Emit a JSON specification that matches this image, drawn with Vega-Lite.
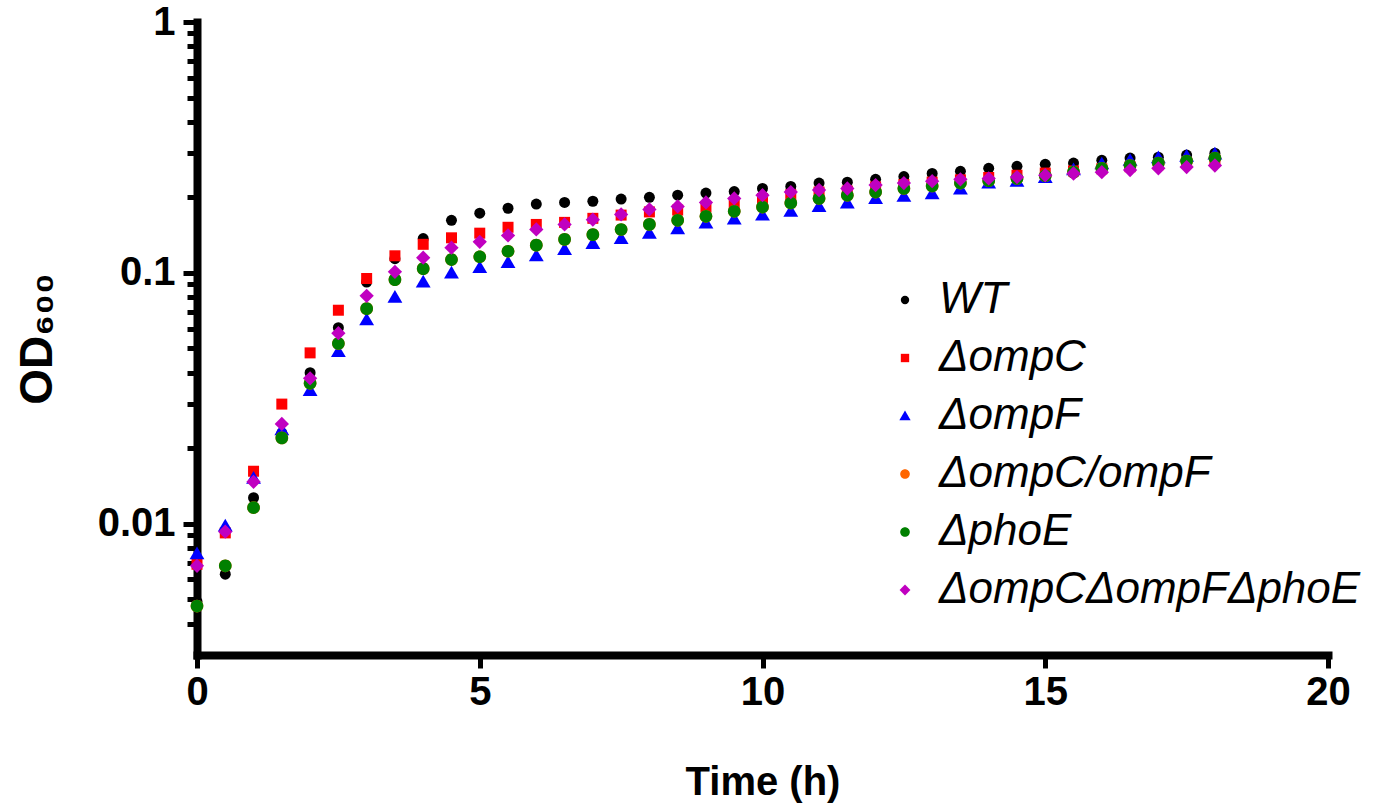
{
  "$schema": "https://vega.github.io/schema/vega-lite/v6.json",
  "width": 1131,
  "height": 633,
  "autosize": "none",
  "padding": {"left": 197, "top": 22, "right": 55, "bottom": 156},
  "background": "white",
  "config": {"view": {"stroke": null}},
  "data": {
    "values": [
      {"t": 0, "WT": 0.0049, "ΔompC": 0.0069, "ΔompF": 0.0076, "ΔompC/ompF": 0.0047, "ΔphoE": 0.0047, "ΔompCΔompFΔphoE": 0.0068},
      {"t": 0.5, "WT": 0.0063, "ΔompC": 0.0092, "ΔompF": 0.0098, "ΔompC/ompF": 0.0068, "ΔphoE": 0.0068, "ΔompCΔompFΔphoE": 0.0093},
      {"t": 1, "WT": 0.0127, "ΔompC": 0.0162, "ΔompF": 0.0152, "ΔompC/ompF": 0.0116, "ΔphoE": 0.0116, "ΔompCΔompFΔphoE": 0.0147},
      {"t": 1.5, "WT": 0.023, "ΔompC": 0.03, "ΔompF": 0.0237, "ΔompC/ompF": 0.022, "ΔphoE": 0.022, "ΔompCΔompFΔphoE": 0.025},
      {"t": 2, "WT": 0.04, "ΔompC": 0.048, "ΔompF": 0.034, "ΔompC/ompF": 0.0363, "ΔphoE": 0.0363, "ΔompCΔompFΔphoE": 0.038},
      {"t": 2.5, "WT": 0.0605, "ΔompC": 0.071, "ΔompF": 0.0486, "ΔompC/ompF": 0.0523, "ΔphoE": 0.0523, "ΔompCΔompFΔphoE": 0.0575},
      {"t": 3, "WT": 0.092, "ΔompC": 0.095, "ΔompF": 0.065, "ΔompC/ompF": 0.072, "ΔphoE": 0.072, "ΔompCΔompFΔphoE": 0.081},
      {"t": 3.5, "WT": 0.114, "ΔompC": 0.117, "ΔompF": 0.08, "ΔompC/ompF": 0.094, "ΔphoE": 0.094, "ΔompCΔompFΔphoE": 0.101},
      {"t": 4, "WT": 0.137, "ΔompC": 0.13, "ΔompF": 0.092, "ΔompC/ompF": 0.104, "ΔphoE": 0.104, "ΔompCΔompFΔphoE": 0.115},
      {"t": 4.5, "WT": 0.162, "ΔompC": 0.138, "ΔompF": 0.1, "ΔompC/ompF": 0.113, "ΔphoE": 0.113, "ΔompCΔompFΔphoE": 0.126},
      {"t": 5, "WT": 0.173, "ΔompC": 0.144, "ΔompF": 0.105, "ΔompC/ompF": 0.116, "ΔphoE": 0.116, "ΔompCΔompFΔphoE": 0.133},
      {"t": 5.5, "WT": 0.181, "ΔompC": 0.152, "ΔompF": 0.11, "ΔompC/ompF": 0.122, "ΔphoE": 0.122, "ΔompCΔompFΔphoE": 0.141},
      {"t": 6, "WT": 0.188, "ΔompC": 0.156, "ΔompF": 0.117, "ΔompC/ompF": 0.129, "ΔphoE": 0.129, "ΔompCΔompFΔphoE": 0.149},
      {"t": 6.5, "WT": 0.191, "ΔompC": 0.159, "ΔompF": 0.124, "ΔompC/ompF": 0.136, "ΔphoE": 0.136, "ΔompCΔompFΔphoE": 0.156},
      {"t": 7, "WT": 0.193, "ΔompC": 0.165, "ΔompF": 0.131, "ΔompC/ompF": 0.142, "ΔphoE": 0.142, "ΔompCΔompFΔphoE": 0.163},
      {"t": 7.5, "WT": 0.197, "ΔompC": 0.17, "ΔompF": 0.137, "ΔompC/ompF": 0.149, "ΔphoE": 0.149, "ΔompCΔompFΔphoE": 0.171},
      {"t": 8, "WT": 0.2, "ΔompC": 0.175, "ΔompF": 0.144, "ΔompC/ompF": 0.156, "ΔphoE": 0.156, "ΔompCΔompFΔphoE": 0.179},
      {"t": 8.5, "WT": 0.204, "ΔompC": 0.178, "ΔompF": 0.15, "ΔompC/ompF": 0.162, "ΔphoE": 0.162, "ΔompCΔompFΔphoE": 0.184},
      {"t": 9, "WT": 0.208, "ΔompC": 0.183, "ΔompF": 0.158, "ΔompC/ompF": 0.168, "ΔphoE": 0.168, "ΔompCΔompFΔphoE": 0.191},
      {"t": 9.5, "WT": 0.211, "ΔompC": 0.19, "ΔompF": 0.164, "ΔompC/ompF": 0.176, "ΔphoE": 0.176, "ΔompCΔompFΔphoE": 0.198},
      {"t": 10, "WT": 0.217, "ΔompC": 0.198, "ΔompF": 0.17, "ΔompC/ompF": 0.183, "ΔphoE": 0.183, "ΔompCΔompFΔphoE": 0.204},
      {"t": 10.5, "WT": 0.221, "ΔompC": 0.205, "ΔompF": 0.176, "ΔompC/ompF": 0.19, "ΔphoE": 0.19, "ΔompCΔompFΔphoE": 0.21},
      {"t": 11, "WT": 0.228, "ΔompC": 0.21, "ΔompF": 0.184, "ΔompC/ompF": 0.198, "ΔphoE": 0.198, "ΔompCΔompFΔphoE": 0.214},
      {"t": 11.5, "WT": 0.23, "ΔompC": 0.212, "ΔompF": 0.19, "ΔompC/ompF": 0.204, "ΔphoE": 0.204, "ΔompCΔompFΔphoE": 0.217},
      {"t": 12, "WT": 0.236, "ΔompC": 0.22, "ΔompF": 0.198, "ΔompC/ompF": 0.21, "ΔphoE": 0.21, "ΔompCΔompFΔphoE": 0.224},
      {"t": 12.5, "WT": 0.242, "ΔompC": 0.225, "ΔompF": 0.202, "ΔompC/ompF": 0.217, "ΔphoE": 0.217, "ΔompCΔompFΔphoE": 0.228},
      {"t": 13, "WT": 0.249, "ΔompC": 0.23, "ΔompF": 0.207, "ΔompC/ompF": 0.222, "ΔphoE": 0.222, "ΔompCΔompFΔphoE": 0.232},
      {"t": 13.5, "WT": 0.254, "ΔompC": 0.235, "ΔompF": 0.216, "ΔompC/ompF": 0.228, "ΔphoE": 0.228, "ΔompCΔompFΔphoE": 0.236},
      {"t": 14, "WT": 0.261, "ΔompC": 0.24, "ΔompF": 0.228, "ΔompC/ompF": 0.233, "ΔphoE": 0.233, "ΔompCΔompFΔphoE": 0.238},
      {"t": 14.5, "WT": 0.266, "ΔompC": 0.245, "ΔompF": 0.232, "ΔompC/ompF": 0.238, "ΔphoE": 0.238, "ΔompCΔompFΔphoE": 0.241},
      {"t": 15, "WT": 0.271, "ΔompC": 0.25, "ΔompF": 0.24, "ΔompC/ompF": 0.244, "ΔphoE": 0.244, "ΔompCΔompFΔphoE": 0.245},
      {"t": 15.5, "WT": 0.274, "ΔompC": 0.255, "ΔompF": 0.258, "ΔompC/ompF": 0.252, "ΔphoE": 0.252, "ΔompCΔompFΔphoE": 0.249},
      {"t": 16, "WT": 0.281, "ΔompC": 0.26, "ΔompF": 0.272, "ΔompC/ompF": 0.261, "ΔphoE": 0.261, "ΔompCΔompFΔphoE": 0.252},
      {"t": 16.5, "WT": 0.287, "ΔompC": 0.265, "ΔompF": 0.281, "ΔompC/ompF": 0.268, "ΔphoE": 0.268, "ΔompCΔompFΔphoE": 0.257},
      {"t": 17, "WT": 0.289, "ΔompC": 0.27, "ΔompF": 0.288, "ΔompC/ompF": 0.274, "ΔphoE": 0.274, "ΔompCΔompFΔphoE": 0.261},
      {"t": 17.5, "WT": 0.295, "ΔompC": 0.275, "ΔompF": 0.292, "ΔompC/ompF": 0.279, "ΔphoE": 0.279, "ΔompCΔompFΔphoE": 0.264},
      {"t": 18, "WT": 0.3, "ΔompC": 0.28, "ΔompF": 0.298, "ΔompC/ompF": 0.287, "ΔphoE": 0.287, "ΔompCΔompFΔphoE": 0.268}
    ]
  },
  "transform": [
    {"fold": ["WT", "ΔompC", "ΔompF", "ΔompC/ompF", "ΔphoE", "ΔompCΔompFΔphoE"], "as": ["strain", "od"]}
  ],
  "mark": {"type": "point", "filled": true, "opacity": 1, "size": 121},
  "encoding": {
    "x": {
      "field": "t",
      "type": "quantitative",
      "scale": {"domain": [0, 20], "nice": false, "zero": false},
      "axis": {
        "title": "Time (h)",
        "values": [0, 5, 10, 15, 20],
        "grid": false,
        "domainColor": "black",
        "domainWidth": 8,
        "domainCap": "square",
        "tickColor": "black",
        "tickWidth": 5,
        "tickSize": 13,
        "labelFont": "Liberation Sans",
        "labelFontWeight": "bold",
        "labelFontSize": 40,
        "labelColor": "black",
        "labelPadding": 4,
        "labelFlush": false,
        "titleFont": "Liberation Sans",
        "titleFontWeight": "bold",
        "titleFontSize": 40,
        "titleColor": "black",
        "titlePadding": 50
      }
    },
    "y": {
      "field": "od",
      "type": "quantitative",
      "scale": {"type": "log", "domain": [0.003, 1], "nice": false},
      "axis": {
        "title": "OD₆₀₀",
        "values": [0.004, 0.005, 0.006, 0.007, 0.008, 0.009, 0.01, 0.02, 0.03, 0.04, 0.05, 0.06, 0.07, 0.08, 0.09, 0.1, 0.2, 0.3, 0.4, 0.5, 0.6, 0.7, 0.8, 0.9, 1],
        "labelExpr": "datum.value == 1 ? '1' : datum.value == 0.1 ? '0.1' : datum.value == 0.01 ? '0.01' : ''",
        "grid": false,
        "domainColor": "black",
        "domainWidth": 8,
        "domainCap": "square",
        "tickColor": "black",
        "tickWidth": 5,
        "tickSize": {"condition": {"test": "datum.value == 1 || datum.value == 0.1 || datum.value == 0.01", "value": 14}, "value": 10},
        "labelFont": "Liberation Sans",
        "labelFontWeight": "bold",
        "labelFontSize": 40,
        "labelColor": "black",
        "labelPadding": 8,
        "labelFlush": false,
        "labelOverlap": false,
        "titleFont": "Liberation Sans",
        "titleFontWeight": "bold",
        "titleFontSize": 46,
        "titleColor": "black",
        "titlePadding": 36
      }
    },
    "color": {
      "field": "strain",
      "type": "nominal",
      "scale": {
        "domain": ["WT", "ΔompC", "ΔompF", "ΔompC/ompF", "ΔphoE", "ΔompCΔompFΔphoE"],
        "range": ["#000000", "#FF0000", "#0000FF", "#FF6600", "#008000", "#C000C0"]
      },
      "legend": {
        "title": null,
        "orient": "none",
        "legendX": 686,
        "legendY": 256,
        "padding": 0,
        "labelFont": "Liberation Sans",
        "labelFontStyle": "italic",
        "labelFontSize": 44,
        "labelColor": "black",
        "labelOffset": 12,
        "labelLimit": 0,
        "rowPadding": 14,
        "symbolSize": 70,
        "symbolStrokeWidth": 0
      }
    },
    "shape": {
      "field": "strain",
      "type": "nominal",
      "scale": {
        "domain": ["WT", "ΔompC", "ΔompF", "ΔompC/ompF", "ΔphoE", "ΔompCΔompFΔphoE"],
        "range": [
          "circle",
          "M-1,-1L1,-1L1,1L-1,1Z",
          "M0,-1.3L1.35,1L-1.35,1Z",
          "M-1.15,0A1.15,1.15,0,1,0,1.15,0A1.15,1.15,0,1,0,-1.15,0Z",
          "M-1.15,0A1.15,1.15,0,1,0,1.15,0A1.15,1.15,0,1,0,-1.15,0Z",
          "M0,-1.3L1.3,0L0,1.3L-1.3,0Z"
        ]
      }
    }
  }
}
